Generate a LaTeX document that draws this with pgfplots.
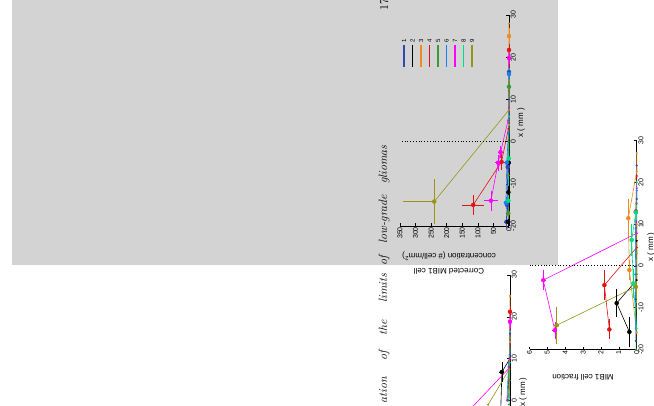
\documentclass[border=0pt]{standalone}
\usepackage{fontspec}
\usepackage{pgfplots}
\pgfplotsset{compat=1.18}
\newfontfamily\hv{Liberation Sans}
\definecolor{c1}{RGB}{50,70,180}
\definecolor{c2}{RGB}{0,0,0}
\definecolor{c3}{RGB}{235,140,30}
\definecolor{c4}{RGB}{225,20,20}
\definecolor{c5}{RGB}{60,150,60}
\definecolor{c6}{RGB}{20,130,240}
\definecolor{c7}{RGB}{255,0,255}
\definecolor{c8}{RGB}{0,220,130}
\definecolor{c9}{RGB}{150,150,20}
\definecolor{bg}{RGB}{211,211,211}
\pgfplotsset{
  rot/.style={
    scale only axis, x dir=reverse,
    axis x line*=bottom, axis y line*=right,
    ymin=-20, ymax=30, ytick={-20,-10,...,30},
    tick align=inside, major tick length=2.5pt,
    tick style={black, line width=0.5pt},
    axis line style={black, line width=0.6pt},
    ticklabel style={font=\hv\fontsize{7}{7}\selectfont},
    /pgf/number format/assume math mode=true,
    xticklabel style={rotate=90, anchor=east, inner sep=1pt},
    yticklabel style={rotate=90, anchor=north, inner sep=1.5pt},
    clip=false,
  },
  ser/.style={color=#1, line width=0.6pt, mark=*, mark size=0.7pt, mark options={solid}},
  eb/.style={color=#1, forget plot, only marks, mark=none,
    error bars/.cd, x dir=both, x explicit, y dir=both, y explicit,
    error bar style={line width=0.5pt},
    error mark options={mark size=1.6pt, line width=0.5pt}},
}
\begin{document}
\begin{tikzpicture}
\useasboundingbox (0pt,0pt) rectangle (654pt,406pt);
\clip (0pt,0pt) rectangle (654pt,406pt);
\fill[bg] (12pt,141pt) rectangle (558pt,406pt);

% page text (rotated)
\begin{scope}[every node/.style={rotate=90, anchor=base, inner sep=0pt, font=\fontsize{12}{14}\selectfont\itshape}]
\node at (387pt,16pt) {ation};
\node at (387pt,50pt) {of};
\node at (387pt,78pt) {the};
\node at (387pt,118pt) {limits};
\node at (387pt,145pt) {of};
\node at (387pt,187pt) {low-grade};
\node at (387pt,241.5pt) {gliomas};
\end{scope}
\node[rotate=90, anchor=base, inner sep=0pt, font=\fontsize{12}{14}\selectfont] at (388pt,401pt) {17};

% ---------- plot 1 ----------
\begin{axis}[rot, at={(400pt,180pt)}, width=109pt, height=211pt,
  xmin=0, xmax=350, xtick={0,50,...,350}]
\addplot[ser=c1] coordinates {(8,-19) (6,-15) (4,-6) (1,2) (0,10) (0,16.5) (0,22)};
\addplot[ser=c2] coordinates {(3,-19) (2,-12) (1,-5) (0,0) (0,12)};
\addplot[ser=c3] coordinates {(2,-17) (1,-8) (0,4) (1,16) (0,25) (0,28)};
\addplot[ser=c4] coordinates {(115,-15) (24,-4.8) (2,3) (0,13) (0,21.7)};
\addplot[ser=c5] coordinates {(3,-17) (2,-8) (1,0) (0,8) (0,13)};
\addplot[ser=c6] coordinates {(10,-14.5) (7,-5) (2,2) (0,16)};
\addplot[ser=c7] coordinates {(58,-14) (35,-5) (27,-2.5) (3,5) (0,8) (0,19.8)};
\addplot[ser=c8] coordinates {(2,-14) (1,-4) (0,6) (0,17)};
\addplot[ser=c9] coordinates {(240,-14.2) (0,7.5) (0,12) (0,14.5)};
\addplot[eb=c1] coordinates {(8,-19) +- (2,1) (6,-15) +- (2,1) (4,-6) +- (2,1) (0,16.5) +- (0,1)};
\addplot[eb=c2] coordinates {(3,-19) +- (1,1) (2,-12) +- (1,1) (1,-5) +- (1,1)};
\addplot[eb=c3] coordinates {(2,-17) +- (1,1) (0,25) +- (0,1.5)};
\addplot[eb=c4] coordinates {(115,-15) +- (30,2) (24,-4.8) +- (6,1.5) (0,21.7) +- (0,1)};
\addplot[eb=c5] coordinates {(3,-17) +- (1,1) (0,13) +- (0,1)};
\addplot[eb=c6] coordinates {(10,-14.5) +- (2,1) (7,-5) +- (2,1) (0,16) +- (0,1)};
\addplot[eb=c7] coordinates {(58,-14) +- (18,2) (35,-5) +- (6,1.5) (27,-2.5) +- (4,1) (0,19.8) +- (0,1)};
\addplot[eb=c8] coordinates {(2,-14) +- (1,1) (1,-4) +- (1,1)};
\addplot[eb=c9] coordinates {(240,-14.2) += (95,4.9) -= (0,4.9)};
\addplot[black, dotted, line width=0.8pt, forget plot] coordinates {(0,0) (350,0)};
\end{axis}

% ---------- legend of plot 1 (rotated, drawn as a small axis) ----------
\begin{axis}[scale only axis, at={(404pt,339pt)}, width=68pt, height=22pt,
  xmin=1, xmax=9, ymin=0, ymax=1, axis lines=none, clip=false]
\addplot[c1, line width=1.3pt] coordinates {(1,0) (1,1)};
\addplot[c2, line width=1.3pt] coordinates {(2,0) (2,1)};
\addplot[c3, line width=1.3pt] coordinates {(3,0) (3,1)};
\addplot[c4, line width=1.3pt] coordinates {(4,0) (4,1)};
\addplot[c5, line width=1.3pt] coordinates {(5,0) (5,1)};
\addplot[c6, line width=1.3pt] coordinates {(6,0) (6,1)};
\addplot[c7, line width=1.3pt] coordinates {(7,0) (7,1)};
\addplot[c8, line width=1.3pt] coordinates {(8,0) (8,1)};
\addplot[c9, line width=1.3pt] coordinates {(9,0) (9,1)};
\foreach \i in {1,...,9}{
  \edef\tmp{\noexpand\node[rotate=90, anchor=west, inner sep=0pt, font=\noexpand\hv\noexpand\fontsize{6}{6}\noexpand\selectfont] at (axis cs:\i,1.12) {\i};}
  \tmp
}
\end{axis}

% ---------- plot 2 ----------
\begin{axis}[rot, at={(529.5pt,56.5pt)}, width=107.2pt, height=209pt,
  xmin=0, xmax=6, xtick={0,1,...,6}]
\addplot[ser=c1] coordinates {(0.05,-18) (0.05,-8) (0.02,0) (0.05,9) (0,16) (0,24)};
\addplot[ser=c2] coordinates {(0.41,-15.8) (1.12,-8.9) (0,-3.4) (0,6)};
\addplot[ser=c3] coordinates {(0,-16) (0.41,-1) (0.47,11.4) (0,22.6) (0,27)};
\addplot[ser=c4] coordinates {(1.53,-15.2) (1.81,-4.6) (0,4.4) (0.05,13) (0,21.5)};
\addplot[ser=c5] coordinates {(0.03,-20) (0.03,-10) (0,-2) (0.05,8) (0,15)};
\addplot[ser=c6] coordinates {(0.05,-15) (0.08,-2) (0.05,9) (0,18)};
\addplot[ser=c7] coordinates {(4.58,-15.4) (5.23,-3.4) (0,7.8) (0,18.6)};
\addplot[ser=c8] coordinates {(0,-15) (0.19,-4.2) (0.28,6.2) (0.05,12.8) (0,20)};
\addplot[ser=c9] coordinates {(4.48,-14.2) (0.05,-5) (0,3) (0,10)};
\addplot[eb=c2] coordinates {(0.41,-15.8) +- (0,3.3) (1.12,-8.9) +- (0,3)};
\addplot[eb=c3] coordinates {(0.41,-1) +- (0,2) (0.47,11.4) +- (0,4.2)};
\addplot[eb=c4] coordinates {(1.53,-15.2) +- (0,2) (1.81,-4.6) +- (0,3.2) (0.05,13) +- (0,1.5)};
\addplot[eb=c7] coordinates {(4.58,-15.4) +- (0.05,1.6) (5.23,-3.4) +- (0.05,2.1)};
\addplot[eb=c8] coordinates {(0.19,-4.2) +- (0,3) (0.28,6.2) +- (0,3.5) (0.05,12.8) +- (0,1.5)};
\addplot[eb=c9] coordinates {(4.48,-14.2) +- (0.05,4.1) (0.05,-5) +- (0,3.5)};
\addplot[black, dotted, line width=0.8pt, forget plot] coordinates {(0,0) (6,0)};
\end{axis}

% ---------- plot 3 (partly visible) ----------
\begin{axis}[rot, at={(401pt,-78pt)}, width=109pt, height=209pt,
  xmin=0, xmax=350, xtick={0,50,...,350}]
\addplot[ser=c1] coordinates {(6,0) (3,9) (0,16)};
\addplot[ser=c2] coordinates {(30,-3) (26,6.8) (0,10)};
\addplot[ser=c3] coordinates {(5,2) (4,8) (0,14) (0,25)};
\addplot[ser=c4] coordinates {(8,0) (2,8) (0,21.2)};
\addplot[ser=c5] coordinates {(3,-1) (1,4.8) (0,12)};
\addplot[ser=c6] coordinates {(10,0) (5,8) (1,11) (0,15)};
\addplot[ser=c7] coordinates {(120,-1.5) (3,7.7) (0,10) (0,18.8)};
\addplot[ser=c8] coordinates {(2,1) (1,9) (0,16.5)};
\addplot[ser=c9] coordinates {(70,-1) (2,7.5) (0,15)};
\addplot[eb=c2] coordinates {(26,6.8) +- (3,2)};
\addplot[eb=c4] coordinates {(0,21.2) +- (0,1)};
\addplot[eb=c7] coordinates {(0,18.8) +- (0,1)};
\end{axis}

% axis labels
\begin{scope}[every node/.style={font=\hv\fontsize{8}{15}\selectfont, inner sep=0pt}]
\node[rotate=180, align=center] at (449pt,142.5pt) {Corrected MIB1 cell\\concentration (\# cell/mm\textsuperscript{2})};
\node[rotate=90] at (521pt,283pt) {x ( mm )};
\node[rotate=180] at (583pt,29pt) {MIB1 cell fraction};
\node[rotate=90] at (651pt,159pt) {x ( mm )};
\node[rotate=90] at (523pt,14pt) {x ( mm )};
\end{scope}
\end{tikzpicture}
\end{document}
